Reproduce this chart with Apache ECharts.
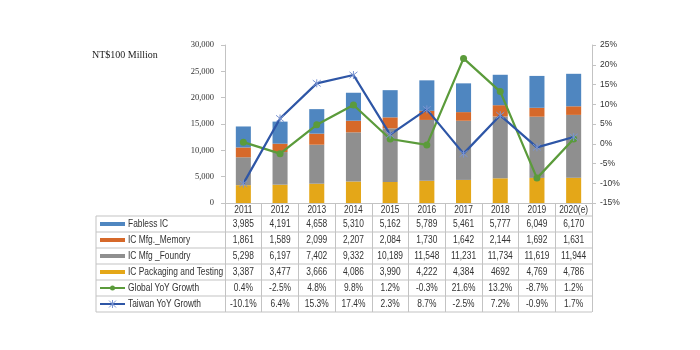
<!DOCTYPE html>
<html>
<head>
<meta charset="utf-8">
<script src="https://cdn.jsdelivr.net/npm/echarts@6/dist/echarts.min.js"></script>
<style>
  html, body { margin: 0; padding: 0; background: #fff; }
  #chart { width: 700px; height: 350px; }
</style>
</head>
<body>
<div id="chart"></div>
<script>
const years = ['2011', '2012', '2013', '2014', '2015', '2016', '2017', '2018', '2019', '2020(e)']
const fabless = [3985, 4191, 4658, 5310, 5162, 5789, 5461, 5777, 6049, 6170]
const memory = [1861, 1589, 2099, 2207, 2084, 1730, 1642, 2144, 1692, 1631]
const foundry = [5298, 6197, 7402, 9332, 10189, 11548, 11231, 11734, 11619, 11944]
const packaging = [3387, 3477, 3666, 4086, 3990, 4222, 4384, 4692, 4769, 4786]
const globalYoY = [0.4, -2.5, 4.8, 9.8, 1.2, -0.3, 21.6, 13.2, -8.7, 1.2]
const taiwanYoY = [-10.1, 6.4, 15.3, 17.4, 2.3, 8.7, -2.5, 7.2, -0.9, 1.7]

const FONT = '"Liberation Sans", Arial, sans-serif'
const SERIF = '"Liberation Serif", serif'
const TXT = '#333'
const LINE = '#c3c3c3'
const STAR = '#7b95d2'
const colors = {
  fabless: '#4f86c0',
  memory: '#d6692a',
  foundry: '#8f8f8f',
  packaging: '#e4a718',
  global: '#5b9b3b',
  taiwan: '#2e56a6'
}
const starPath = 'path://M1,1 L9,9 M9,1 L1,9 M5,0 L5,10'

const fmt = v => v.toLocaleString('en-US')
const pct = v => v.toFixed(1) + '%'
const packagingText = packaging.map(fmt)
packagingText[7] = '4692' // printed without separator in the source table

const rows = [
  { name: 'Fabless IC', color: colors.fabless, kind: 'bar', cells: fabless.map(fmt) },
  { name: 'IC Mfg._Memory', color: colors.memory, kind: 'bar', cells: memory.map(fmt) },
  { name: 'IC Mfg _Foundry', color: colors.foundry, kind: 'bar', cells: foundry.map(fmt) },
  { name: 'IC Packaging and Testing', color: colors.packaging, kind: 'bar', cells: packagingText },
  { name: 'Global YoY Growth', color: colors.global, kind: 'circle', cells: globalYoY.map(pct) },
  { name: 'Taiwan YoY Growth', color: colors.taiwan, kind: 'star', cells: taiwanYoY.map(pct) }
]

const chart = echarts.init(document.getElementById('chart'))

const barSeries = (name, data, color) => ({
  name,
  type: 'bar',
  stack: 'total',
  data,
  barWidth: '41%',
  itemStyle: { color },
  z: 2
})

const option = {
  animation: false,
  textStyle: { fontFamily: FONT },
  grid: { left: 225, right: 108, top: 45, bottom: 147 },
  xAxis: {
    type: 'category',
    data: years,
    axisLine: { lineStyle: { color: LINE } },
    axisTick: { show: true, interval: 0, length: 109, lineStyle: { color: LINE } },
    axisLabel: { show: false }
  },
  yAxis: [{
    type: 'value',
    min: 0,
    max: 30000,
    interval: 5000,
    splitLine: { show: false },
    axisLine: { show: true, lineStyle: { color: LINE } },
    axisTick: { show: true, length: 4, lineStyle: { color: LINE } },
    axisLabel: { color: TXT, fontSize: 8.5, margin: 11, fontFamily: SERIF, formatter: v => fmt(v) }
  }, {
    type: 'value',
    position: 'right',
    min: -15,
    max: 25,
    interval: 5,
    splitLine: { show: false },
    axisLine: { show: true, lineStyle: { color: LINE } },
    axisTick: { show: true, length: 4, lineStyle: { color: LINE } },
    axisLabel: { color: TXT, fontSize: 8.5, margin: 8, fontFamily: FONT, formatter: '{value}%' }
  }],
  series: [
    barSeries('IC Packaging and Testing', packaging, colors.packaging),
    barSeries('IC Mfg _Foundry', foundry, colors.foundry),
    barSeries('IC Mfg._Memory', memory, colors.memory),
    barSeries('Fabless IC', fabless, colors.fabless),
    {
      name: 'Global YoY Growth',
      type: 'line',
      yAxisIndex: 1,
      data: globalYoY,
      symbol: 'circle',
      symbolSize: 7,
      lineStyle: { color: colors.global, width: 2.25 },
      itemStyle: { color: colors.global },
      z: 4
    },
    {
      name: 'Taiwan YoY Growth',
      type: 'line',
      yAxisIndex: 1,
      data: taiwanYoY,
      symbol: starPath,
      symbolSize: 8,
      lineStyle: { color: colors.taiwan, width: 2.25 },
      itemStyle: { color: 'transparent', borderColor: STAR, borderWidth: 1 },
      z: 5
    }
  ],
  graphic: [{
    type: 'text',
    left: 92,
    top: 50,
    style: { text: 'NT$100 Million', fontSize: 10, fontFamily: SERIF, fill: '#222' }
  }]
}
chart.setOption(option)

// data table under the plot, columns placed with the category axis' own pixel positions
const xOf = i => chart.convertToPixel({ xAxisIndex: 0 }, years[i])
const colHalf = (xOf(1) - xOf(0)) / 2
const tableLeft = 96
const tableRight = xOf(years.length - 1) + colHalf
const plotBottom = 203
const headerBottom = 216
const rowH = 16
const els = []
const seg = (x1, y1, x2, y2, stroke, lineWidth) => ({ type: 'line', shape: { x1, y1, x2, y2 }, style: { stroke, lineWidth } })
// narrow text, like the spreadsheet's table font
const cellText = (text, x, y, align) => ({
  type: 'text', x, y, scaleX: 0.84,
  style: { text, x: 0, y: 0, align, verticalAlign: 'middle', fontSize: 10, fontFamily: FONT, fill: TXT }
})
for (let i = 0; i <= rows.length; i++) {
  const y = headerBottom + i * rowH
  els.push(seg(tableLeft, y, tableRight, y, LINE, 1))
}
els.push(seg(tableLeft, headerBottom, tableLeft, headerBottom + rows.length * rowH, LINE, 1))
years.forEach((yr, j) => els.push(cellText(yr, xOf(j), (plotBottom + headerBottom) / 2 + 0.5, 'center')))
rows.forEach((r, i) => {
  const cy = headerBottom + i * rowH + rowH / 2
  if (r.kind === 'bar') {
    els.push({ type: 'rect', shape: { x: 100, y: cy - 2, width: 25, height: 4 }, style: { fill: r.color } })
  } else {
    els.push(seg(100, cy, 125, cy, r.color, 2))
    if (r.kind === 'circle') {
      els.push({ type: 'circle', shape: { cx: 112.5, cy, r: 2.5 }, style: { fill: r.color } })
    } else {
      els.push(seg(109, cy - 3.5, 116, cy + 3.5, STAR, 1))
      els.push(seg(116, cy - 3.5, 109, cy + 3.5, STAR, 1))
      els.push(seg(112.5, cy - 4, 112.5, cy + 4, STAR, 1))
    }
  }
  els.push(cellText(r.name, 128, cy, 'left'))
  r.cells.forEach((c, j) => els.push(cellText(c, xOf(j), cy, 'center')))
})
chart.setOption({ graphic: option.graphic.concat(els) })
</script>
</body>
</html>
